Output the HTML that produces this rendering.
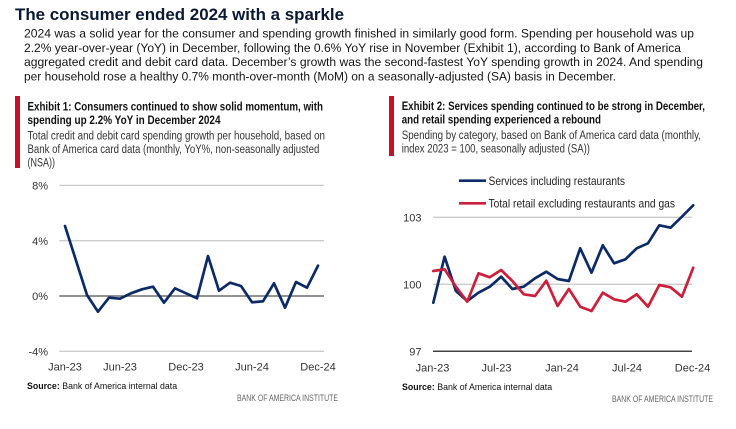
<!DOCTYPE html>
<html><head><meta charset="utf-8"><style>
html,body{margin:0;padding:0;background:#fff;}
svg{display:block;}
text{font-family:"Liberation Sans",Arial,sans-serif;}
</style></head><body>
<svg width="736" height="429" viewBox="0 0 736 429" xmlns="http://www.w3.org/2000/svg">
<rect width="736" height="429" fill="#fff"/>
<!-- Title -->
<text x="15" y="20" font-size="16.5" font-weight="bold" fill="#0b1a33" textLength="329" lengthAdjust="spacingAndGlyphs">The consumer ended 2024 with a sparkle</text>
<!-- Body -->
<g font-size="12.2" fill="#151515">
<text x="24" y="37.5" textLength="670" lengthAdjust="spacingAndGlyphs">2024 was a solid year for the consumer and spending growth finished in similarly good form. Spending per household was up</text>
<text x="24" y="51.8" textLength="657" lengthAdjust="spacingAndGlyphs">2.2% year-over-year (YoY) in December, following the 0.6% YoY rise in November (Exhibit 1), according to Bank of America</text>
<text x="24" y="66.1" textLength="679" lengthAdjust="spacingAndGlyphs">aggregated credit and debit card data. December’s growth was the second-fastest YoY spending growth in 2024. And spending</text>
<text x="24" y="80.4" textLength="592" lengthAdjust="spacingAndGlyphs">per household rose a healthy 0.7% month-over-month (MoM) on a seasonally-adjusted (SA) basis in December.</text>
</g>

<!-- Exhibit 1 header -->
<rect x="15" y="96" width="5" height="72" fill="#c8102e"/>
<g font-size="11.5" font-weight="bold" fill="#111">
<text x="27.5" y="110.5" textLength="295.5" lengthAdjust="spacingAndGlyphs">Exhibit 1: Consumers continued to show solid momentum, with</text>
<text x="27.5" y="124" textLength="193" lengthAdjust="spacingAndGlyphs">spending up 2.2% YoY in December 2024</text>
</g>
<g font-size="11.5" fill="#333">
<text x="27.5" y="139.5" textLength="297.5" lengthAdjust="spacingAndGlyphs">Total credit and debit card spending growth per household, based on</text>
<text x="27.5" y="153" textLength="291.8" lengthAdjust="spacingAndGlyphs">Bank of America card data (monthly, YoY%, non-seasonally adjusted</text>
<text x="27.5" y="166.5" textLength="27.5" lengthAdjust="spacingAndGlyphs">(NSA))</text>
</g>

<!-- Exhibit 2 header -->
<rect x="389" y="96" width="5" height="60" fill="#c8102e"/>
<g font-size="11.5" font-weight="bold" fill="#111">
<text x="401.7" y="110" textLength="303.3" lengthAdjust="spacingAndGlyphs">Exhibit 2: Services spending continued to be strong in December,</text>
<text x="401.7" y="123.5" textLength="199.3" lengthAdjust="spacingAndGlyphs">and retail spending experienced a rebound</text>
</g>
<g font-size="11.5" fill="#333">
<text x="401.7" y="139" textLength="299.3" lengthAdjust="spacingAndGlyphs">Spending by category, based on Bank of America card data (monthly,</text>
<text x="401.7" y="152.5" textLength="188.3" lengthAdjust="spacingAndGlyphs">index 2023 = 100, seasonally adjusted (SA))</text>
</g>

<!-- Chart 1 -->
<g stroke-width="1.3">
<line x1="59.3" y1="185.4" x2="324" y2="185.4" stroke="#cccccc"/>
<line x1="59.3" y1="240.7" x2="324" y2="240.7" stroke="#cccccc"/>
<line x1="59.3" y1="351.3" x2="324" y2="351.3" stroke="#cccccc"/>
<line x1="59.3" y1="296" x2="324" y2="296" stroke="#6e6e6e" stroke-width="1.6"/>
</g>
<g font-size="11" fill="#333" text-anchor="end">
<text x="48" y="189.5">8%</text>
<text x="48" y="244.8">4%</text>
<text x="48" y="300.1">0%</text>
<text x="48" y="355.4">-4%</text>
</g>
<g font-size="11" fill="#333" text-anchor="middle">
<text x="65" y="370.5">Jan-23</text>
<text x="120" y="370.5">Jun-23</text>
<text x="186" y="370.5">Dec-23</text>
<text x="252" y="370.5">Jun-24</text>
<text x="318" y="370.5">Dec-24</text>
</g>
<polyline fill="none" stroke="#0c2a66" stroke-width="2.7" stroke-linejoin="round" stroke-linecap="round"
points="65,226 76,260.5 87,295 98,311.7 109,297.7 120,298.7 131,293.3 142,289.3 153,286.7 164,302.7 175,288.3 186,293.3 197,298.3 208,256 219,290.7 230,282.7 241,286 252,302.3 263,301.3 274,283.3 285,307.7 296,282 307,287.7 318,265.7"/>
<text x="27" y="389" font-size="8.8" fill="#111"><tspan font-weight="bold">Source:</tspan> Bank of America internal data</text>
<text x="237" y="401" font-size="9" fill="#666" textLength="101" lengthAdjust="spacingAndGlyphs">BANK OF AMERICA INSTITUTE</text>

<!-- Chart 2 -->
<g stroke-width="1.3">
<line x1="433" y1="217.3" x2="692" y2="217.3" stroke="#cccccc"/>
<line x1="433" y1="284.3" x2="692" y2="284.3" stroke="#cccccc"/>
<line x1="433" y1="351.3" x2="692" y2="351.3" stroke="#444" stroke-width="1.5"/>
</g>
<g font-size="11" fill="#333" text-anchor="end">
<text x="421.5" y="221.4">103</text>
<text x="421.5" y="288.4">100</text>
<text x="421.5" y="355.4">97</text>
</g>
<g font-size="11" fill="#333" text-anchor="middle">
<text x="432.5" y="371.5">Jan-23</text>
<text x="496.5" y="371.5">Jul-23</text>
<text x="562" y="371.5">Jan-24</text>
<text x="627" y="371.5">Jul-24</text>
<text x="692.5" y="371.5">Dec-24</text>
</g>
<!-- legend -->
<line x1="459" y1="180.7" x2="486" y2="180.7" stroke="#0c2a66" stroke-width="2.7"/>
<text x="488.5" y="185" font-size="11.8" fill="#222" textLength="136.5" lengthAdjust="spacingAndGlyphs">Services including restaurants</text>
<line x1="459" y1="203.3" x2="486" y2="203.3" stroke="#cc1f3a" stroke-width="2.7"/>
<text x="488.5" y="207.6" font-size="11.8" fill="#222" textLength="186.5" lengthAdjust="spacingAndGlyphs">Total retail excluding restaurants and gas</text>

<polyline fill="none" stroke="#0c2a66" stroke-width="2.7" stroke-linejoin="round" stroke-linecap="round"
points="433.3,302.7 444.6,256.7 455.9,291 467.2,301 478.5,292.7 489.8,286.7 501.1,276.7 512.4,289 523.7,286.7 535,278.3 546.3,271.7 557.6,279 568.9,281 580.2,248.3 591.5,272.7 602.8,245.3 614.1,263.3 625.4,259.3 636.7,248.3 648,243.3 659.3,225.3 670.6,227.7 681.9,216.7 693.2,205.3"/>
<polyline fill="none" stroke="#cc1f3a" stroke-width="2.7" stroke-linejoin="round" stroke-linecap="round"
points="433.3,271 444.6,269.3 455.9,286.7 467.2,301.7 478.5,273.3 489.8,277.3 501.1,270 512.4,281 523.7,294.3 535,296 546.3,280.7 557.6,306 568.9,289 580.2,306.7 591.5,311 602.8,292.7 614.1,299.3 625.4,301.7 636.7,294.3 648,306.7 659.3,285 670.6,287.3 681.9,296.7 693.2,267.7"/>
<text x="402" y="390" font-size="8.8" fill="#111"><tspan font-weight="bold">Source:</tspan> Bank of America internal data</text>
<text x="612" y="402" font-size="9" fill="#666" textLength="101" lengthAdjust="spacingAndGlyphs">BANK OF AMERICA INSTITUTE</text>
</svg>
</body></html>
